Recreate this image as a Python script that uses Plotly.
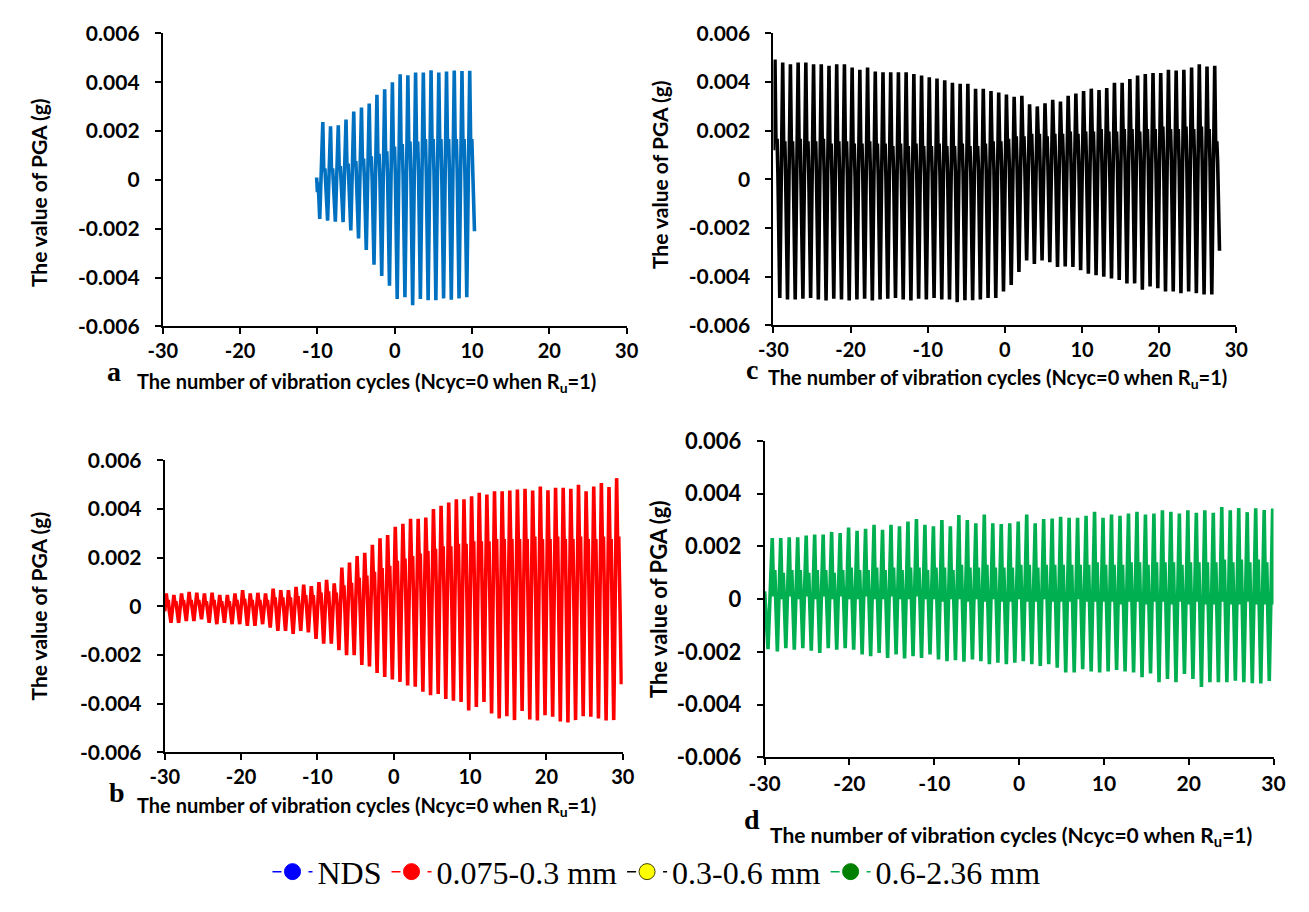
import plotly.graph_objects as go

W, H = 1309, 912

# ---------------- axis ticks ----------------
y_ticks = [-0.006, -0.004, -0.002, 0, 0.002, 0.004, 0.006]
y_tick_text = ["-0.006", "-0.004", "-0.002", "0", "0.002", "0.004", "0.006"]
x_ticks = [-30, -20, -10, 0, 10, 20, 30]
x_tick_text = ["-30", "-20", "-10", "0", "10", "20", "30"]

# ---------------- (a) NDS, values in milli-g ----------------
a_lead_x = [-10.1, -10.0, -9.9, -9.7]
a_lead_y = [0.1, -0.5, -0.1, -1.6]
a_cycle_x = [-9.3, -8.3, -7.3, -6.3, -5.3, -4.3, -3.3, -2.3, -1.3, -0.3,
             0.7, 1.7, 2.7, 3.7, 4.7, 5.7, 6.7, 7.7, 8.7, 9.7]
a_peak = [2.37, 2.2, 2.24, 2.47, 2.8, 2.96, 3.13, 3.49, 3.71, 4.0,
          4.33, 4.29, 4.4, 4.4, 4.49, 4.4, 4.44, 4.48, 4.46, 4.47]
a_upper = [0.4, 0.4, 0.5, 0.6, 0.7, 0.8, 0.9, 1.0, 1.1, 1.3,
           1.4, 1.5, 1.5, 1.6, 1.6, 1.6, 1.6, 1.6, 1.6, 1.6]
a_lower = [-0.3, -0.3, -0.2, -0.2, -0.1, 0.0, 0.0, 0.1, 0.1, 0.2,
           0.2, 0.3, 0.3, 0.3, 0.3, 0.3, 0.3, 0.3, 0.3, 0.3]
a_trough = [-1.67, -1.71, -1.73, -2.07, -2.4, -2.87, -3.47, -3.93, -4.33, -4.87,
            -4.8, -5.13, -4.87, -4.93, -4.93, -4.85, -4.9, -4.85, -4.8, -2.1]

# ---------------- (b) 0.075-0.3 mm ----------------
b_lead_x = [-30.0]
b_lead_y = [-0.2]
b_cycle_x = [-29.8, -28.8, -27.8, -26.8, -25.8, -24.8, -23.8, -22.8, -21.8, -20.8,
             -19.8, -18.8, -17.8, -16.8, -15.8, -14.8, -13.8, -12.8, -11.8, -10.8,
             -9.8, -8.8, -7.8, -6.8, -5.8, -4.8, -3.8, -2.8, -1.8, -0.8,
             0.2, 1.2, 2.2, 3.2, 4.2, 5.2, 6.2, 7.2, 8.2, 9.2,
             10.2, 11.2, 12.2, 13.2, 14.2, 15.2, 16.2, 17.2, 18.2, 19.2,
             20.2, 21.2, 22.2, 23.2, 24.2, 25.2, 26.2, 27.2, 28.2, 29.2]
b_peak = [0.53, 0.47, 0.53, 0.6, 0.56, 0.53, 0.56, 0.47, 0.47, 0.53,
          0.67, 0.53, 0.56, 0.53, 0.73, 0.67, 0.67, 0.8, 0.9, 0.83,
          1.0, 1.09, 0.95, 1.6, 1.8, 2.07, 2.2, 2.53, 2.8, 2.93,
          3.27, 3.4, 3.6, 3.6, 3.65, 4.0, 4.13, 4.27, 4.4, 4.4,
          4.53, 4.67, 4.6, 4.73, 4.73, 4.76, 4.8, 4.83, 4.76, 4.93,
          4.77, 4.87, 4.87, 4.83, 5.0, 4.73, 4.93, 5.07, 4.91, 5.27]
b_upper = [0.2, 0.15, 0.2, 0.2, 0.2, 0.15, 0.2, 0.15, 0.15, 0.2,
           0.25, 0.2, 0.2, 0.2, 0.3, 0.3, 0.3, 0.35, 0.4, 0.4,
           0.5, 0.55, 0.5, 0.8, 0.9, 1.1, 1.2, 1.35, 1.5, 1.6,
           1.8, 1.9, 2.0, 2.1, 2.2, 2.3, 2.4, 2.4, 2.5, 2.5,
           2.6, 2.6, 2.6, 2.7, 2.7, 2.7, 2.7, 2.7, 2.8, 2.7,
           2.7, 2.8, 2.7, 2.7, 2.8, 2.7, 2.7, 2.8, 2.7, 2.8]
b_lower = [-0.15, -0.15, -0.1, -0.15, -0.1, -0.15, -0.15, -0.1, -0.15, -0.15,
           -0.15, -0.1, -0.15, -0.15, -0.1, -0.1, -0.1, -0.1, -0.05, -0.05,
           0.0, 0.0, 0.05, 0.05, 0.1, 0.1, 0.15, 0.15, 0.2, 0.2,
           0.3, 0.3, 0.3, 0.35, 0.35, 0.4, 0.4, 0.4, 0.4, 0.45,
           0.45, 0.4, 0.45, 0.45, 0.45, 0.5, 0.45, 0.45, 0.5, 0.45,
           0.5, 0.45, 0.5, 0.45, 0.5, 0.5, 0.45, 0.5, 0.5, 0.5]
b_trough = [-0.67, -0.67, -0.6, -0.6, -0.53, -0.67, -0.73, -0.67, -0.73, -0.73,
            -0.8, -0.8, -0.73, -0.87, -1.0, -1.0, -1.13, -1.0, -1.07, -1.33,
            -1.53, -1.53, -1.8, -2.0, -2.0, -2.4, -2.47, -2.73, -2.9, -3.0,
            -3.1, -3.25, -3.3, -3.5, -3.65, -3.6, -3.8, -3.87, -3.93, -4.27,
            -4.13, -3.93, -4.4, -4.6, -4.51, -4.67, -4.29, -4.64, -4.69, -4.47,
            -4.53, -4.73, -4.77, -4.67, -4.51, -4.53, -4.6, -4.69, -4.67, -3.2]

# ---------------- (c) 0.3-0.6 mm ----------------
c_lead_x = [-30.0]
c_lead_y = [1.2]
c_cycle_x = [-29.8, -28.8, -27.8, -26.8, -25.8, -24.8, -23.8, -22.8, -21.8, -20.8,
             -19.8, -18.8, -17.8, -16.8, -15.8, -14.8, -13.8, -12.8, -11.8, -10.8,
             -9.8, -8.8, -7.8, -6.8, -5.8, -4.8, -3.8, -2.8, -1.8, -0.8,
             0.2, 1.2, 2.2, 3.2, 4.2, 5.2, 6.2, 7.2, 8.2, 9.2,
             10.2, 11.2, 12.2, 13.2, 14.2, 15.2, 16.2, 17.2, 18.2, 19.2,
             20.2, 21.2, 22.2, 23.2, 24.2, 25.2, 26.2, 27.2]
c_peak = [4.93, 4.8, 4.73, 4.8, 4.8, 4.73, 4.73, 4.67, 4.73, 4.73,
          4.6, 4.51, 4.6, 4.43, 4.4, 4.4, 4.4, 4.4, 4.33, 4.27,
          4.2, 4.15, 4.07, 3.97, 3.93, 3.93, 3.73, 3.73, 3.63, 3.57,
          3.49, 3.4, 3.44, 3.09, 3.0, 3.13, 3.27, 3.2, 3.44, 3.53,
          3.63, 3.73, 3.67, 3.76, 3.97, 3.97, 4.13, 4.27, 4.33, 4.37,
          4.37, 4.51, 4.47, 4.51, 4.6, 4.73, 4.64, 4.67]
c_upper = [1.6, 1.5, 1.5, 1.6, 1.5, 1.5, 1.6, 1.4, 1.5, 1.5,
           1.4, 1.4, 1.5, 1.4, 1.4, 1.3, 1.4, 1.3, 1.4, 1.3,
           1.3, 1.4, 1.3, 1.3, 1.4, 1.3, 1.3, 1.4, 1.5, 1.5,
           1.6, 1.7, 1.7, 1.8, 1.8, 1.7, 1.8, 1.8, 1.9, 1.8,
           1.9, 1.9, 2.0, 1.9, 1.9, 2.0, 2.0, 1.9, 2.0, 2.0,
           2.1, 2.0, 2.0, 2.1, 2.0, 2.1, 2.0, 1.5]
c_lower = [0.2, 0.1, 0.2, 0.1, 0.2, 0.1, 0.2, 0.1, 0.1, 0.2,
           0.1, 0.2, 0.1, 0.2, 0.1, 0.2, 0.2, 0.1, 0.2, 0.2,
           0.2, 0.3, 0.2, 0.3, 0.3, 0.3, 0.4, 0.4, 0.4, 0.5,
           0.5, 0.5, 0.6, 0.6, 0.6, 0.6, 0.6, 0.7, 0.6, 0.7,
           0.6, 0.7, 0.7, 0.6, 0.7, 0.7, 0.7, 0.7, 0.8, 0.7,
           0.7, 0.8, 0.7, 0.7, 0.8, 0.7, 0.8, 0.7]
c_trough = [-4.87, -4.93, -4.93, -4.9, -4.87, -4.93, -4.97, -4.9, -4.93, -4.97,
            -4.93, -4.9, -4.97, -4.93, -4.9, -4.87, -4.93, -4.97, -4.9, -4.93,
            -4.87, -4.93, -4.93, -5.04, -4.96, -4.96, -4.93, -4.87, -4.87, -4.6,
            -4.33, -3.8, -3.33, -3.47, -3.33, -3.4, -3.6, -3.57, -3.6, -3.73,
            -3.87, -3.93, -4.0, -4.07, -4.13, -4.27, -4.27, -4.53, -4.4, -4.47,
            -4.6, -4.6, -4.67, -4.6, -4.67, -4.73, -4.73, -2.93]

# ---------------- (d) 0.6-2.36 mm ----------------
d_lead_x = [-30.0, -29.6]
d_lead_y = [0.3, -1.9]
d_cycle_x = [-29.1, -28.1, -27.1, -26.1, -25.1, -24.1, -23.1, -22.1, -21.1, -20.1,
             -19.1, -18.1, -17.1, -16.1, -15.1, -14.1, -13.1, -12.1, -11.1, -10.1,
             -9.1, -8.1, -7.1, -6.1, -5.1, -4.1, -3.1, -2.1, -1.1, -0.1,
             0.9, 1.9, 2.9, 3.9, 4.9, 5.9, 6.9, 7.9, 8.9, 9.9,
             10.9, 11.9, 12.9, 13.9, 14.9, 15.9, 16.9, 17.9, 18.9, 19.9,
             20.9, 21.9, 22.9, 23.9, 24.9, 25.9, 26.9, 27.9, 28.9, 29.9]
d_peak = [2.32, 2.32, 2.35, 2.35, 2.41, 2.45, 2.45, 2.55, 2.51, 2.72,
          2.59, 2.67, 2.82, 2.63, 2.82, 2.76, 2.94, 3.04, 2.82, 2.76,
          3.0, 2.76, 3.19, 3.0, 2.88, 3.21, 2.88, 2.85, 2.88, 2.94,
          3.21, 2.88, 3.04, 3.06, 3.12, 3.09, 3.09, 3.16, 3.31, 3.09,
          3.21, 3.16, 3.25, 3.31, 3.21, 3.25, 3.37, 3.31, 3.25, 3.37,
          3.28, 3.37, 3.28, 3.49, 3.37, 3.46, 3.3, 3.45, 3.38, 3.44]
d_upper = [1.1, 1.0, 1.1, 1.1, 1.0, 1.1, 1.1, 1.0, 1.1, 1.2,
           1.1, 1.1, 1.2, 1.1, 1.2, 1.1, 1.2, 1.2, 1.1, 1.2,
           1.2, 1.1, 1.3, 1.2, 1.2, 1.3, 1.2, 1.2, 1.2, 1.3,
           1.3, 1.2, 1.3, 1.3, 1.3, 1.3, 1.3, 1.3, 1.4, 1.3,
           1.3, 1.3, 1.4, 1.4, 1.3, 1.4, 1.4, 1.4, 1.3, 1.4,
           1.4, 1.4, 1.4, 1.5, 1.4, 1.5, 1.4, 1.5, 1.4, 1.5]
d_lower = [0.1, 0.0, 0.1, 0.0, 0.1, 0.0, 0.1, 0.0, 0.1, 0.0,
           0.0, 0.1, 0.0, 0.0, 0.1, 0.0, 0.0, 0.1, 0.0, 0.0,
           -0.1, 0.0, 0.0, -0.1, 0.0, -0.1, 0.0, -0.1, -0.1, 0.0,
           -0.1, -0.1, 0.0, -0.1, -0.1, -0.1, 0.0, -0.1, -0.1, -0.1,
           -0.1, -0.2, -0.1, -0.1, -0.2, -0.1, -0.1, -0.2, -0.1, -0.2,
           -0.1, -0.2, -0.2, -0.1, -0.2, -0.2, -0.1, -0.2, -0.2, -0.2]
d_trough = [-1.98, -1.86, -1.92, -1.86, -1.96, -2.04, -1.86, -1.92, -1.86, -1.92,
            -2.1, -2.16, -2.04, -2.23, -2.1, -2.25, -2.16, -2.23, -2.1, -2.29,
            -2.35, -2.32, -2.37, -2.29, -2.35, -2.47, -2.41, -2.47, -2.41, -2.35,
            -2.47, -2.53, -2.47, -2.6, -2.78, -2.78, -2.66, -2.74, -2.78, -2.74,
            -2.69, -2.74, -2.78, -2.96, -2.82, -3.15, -3.03, -3.15, -2.84, -3.03,
            -3.33, -3.15, -3.15, -3.15, -3.09, -3.15, -3.19, -3.2, -3.1, -3.2]

# legend entries: name, marker fill, marker outline, dash colour
legend_names = ["NDS", "0.075-0.3 mm", "0.3-0.6 mm", "0.6-2.36 mm"]
legend_fill = ["#0000FF", "#FF0000", "#FFFF00", "#008000"]
legend_edge = ["#0000FF", "#FF0000", "#404000", "#008000"]
legend_dash = ["#0000FF", "#FF0000", "#000000", "#00B050"]

MG = 1e-3  # stored values are milli-g

# within-cycle phase offsets of the waveform vertices
SHELF_PHASES = (0.12, 0.28, 0.38, 0.62)   # peak -> shelf -> shelf -> mid -> trough
DOUBLE_PHASES = (0.16, 0.30, 0.60)        # peak -> dip -> hump -> trough


def shelf_wave(lead_x, lead_y, cx, pk, up, lo, tr):
    xs = list(lead_x)
    ys = [v * MG for v in lead_y]
    p1, p2, p3, p4 = SHELF_PHASES
    for x0, p, u, l, t in zip(cx, pk, up, lo, tr):
        xs += [x0, x0 + p1, x0 + p2, x0 + p3, x0 + p4]
        ys += [p * MG, u * MG, u * MG, l * MG, t * MG]
    return xs, ys


def double_wave(lead_x, lead_y, cx, pk, up, lo, tr):
    xs = list(lead_x)
    ys = [v * MG for v in lead_y]
    p1, p2, p3 = DOUBLE_PHASES
    for x0, p, u, l, t in zip(cx, pk, up, lo, tr):
        xs += [x0, x0 + p1, x0 + p2, x0 + p3]
        ys += [p * MG, l * MG, u * MG, t * MG]
    return xs, ys


fig = go.Figure()
LW = 3.6

ax, ay = shelf_wave(a_lead_x, a_lead_y, a_cycle_x, a_peak, a_upper, a_lower, a_trough)
fig.add_trace(go.Scatter(x=ax, y=ay, mode="lines", line=dict(color="#0070C0", width=LW),
                         showlegend=False, xaxis="x", yaxis="y"))
cx_, cy_ = shelf_wave(c_lead_x, c_lead_y, c_cycle_x, c_peak, c_upper, c_lower, c_trough)
fig.add_trace(go.Scatter(x=cx_, y=cy_, mode="lines", line=dict(color="#000000", width=LW),
                         showlegend=False, xaxis="x2", yaxis="y2"))
bx, by = shelf_wave(b_lead_x, b_lead_y, b_cycle_x, b_peak, b_upper, b_lower, b_trough)
fig.add_trace(go.Scatter(x=bx, y=by, mode="lines", line=dict(color="#FF0000", width=LW),
                         showlegend=False, xaxis="x3", yaxis="y3"))
dx, dy = double_wave(d_lead_x, d_lead_y, d_cycle_x, d_peak, d_upper, d_lower, d_trough)
fig.add_trace(go.Scatter(x=dx, y=dy, mode="lines", line=dict(color="#00B050", width=LW),
                         showlegend=False, xaxis="x4", yaxis="y4"))

for name, fill, edge, dash in zip(legend_names, legend_fill, legend_edge, legend_dash):
    fig.add_trace(go.Scatter(
        x=[None], y=[None], mode="lines+markers", name=name,
        line=dict(color=dash, width=1.5, dash="dash"),
        marker=dict(size=24, color=fill, line=dict(color=edge, width=1)),
        xaxis="x", yaxis="y"))

SANS = "Lato, 'Open Sans', sans-serif"
SERIF = "'Liberation Serif', 'Times New Roman', serif"


def px_x(p):
    return p / W


def px_y(p):
    return 1 - p / H


def xaxis(x0, x1, anchor, size):
    return dict(domain=[px_x(x0), px_x(x1)], anchor=anchor, range=[-30, 30],
                tickvals=x_ticks, ticktext=x_tick_text, showgrid=False, zeroline=False,
                showline=True, linecolor="black", linewidth=2, ticks="outside",
                ticklen=6, tickwidth=2, tickcolor="black",
                tickfont=dict(family=SANS, size=size, color="black", weight="bold"))


def yaxis(y0, y1, anchor, size):
    return dict(domain=[px_y(y1), px_y(y0)], anchor=anchor, range=[-0.006, 0.006],
                tickvals=y_ticks, ticktext=y_tick_text, showgrid=False, zeroline=False,
                showline=True, linecolor="black", linewidth=2, ticks="outside",
                ticklen=6, tickwidth=2, tickcolor="black", ticklabelstandoff=11,
                tickfont=dict(family=SANS, size=size, color="black", weight="bold"))


TS = 21
fig.update_layout(
    width=W, height=H, autosize=False,
    margin=dict(l=0, r=0, t=0, b=0),
    paper_bgcolor="white", plot_bgcolor="white",
    xaxis=xaxis(150, 624, "y", TS - 1), yaxis=yaxis(20, 322, "x", TS),
    xaxis2=xaxis(774, 1247, "y2", TS - 1), yaxis2=yaxis(20, 321, "x2", TS),
    xaxis3=xaxis(152, 620, "y3", TS - 1), yaxis3=yaxis(460, 761, "x3", TS),
    xaxis4=xaxis(765, 1285, "y4", TS), yaxis4=yaxis(440, 766, "x4", TS + 1),
    legend=dict(orientation="h", x=0.5, xanchor="center", y=px_y(884), yanchor="middle",
                font=dict(family=SERIF, size=32, color="black"),
                itemwidth=40, tracegroupgap=0, bgcolor="rgba(0,0,0,0)"),
)

x_title = "The number of vibration cycles (Ncyc=0 when R<sub>u</sub>=1)"
y_title = "The value of PGA (g)"
ann = []
for (x0, y0, size) in [(122, 380, 20), (122, 817, 20), (766, 376, 20), (768, 847, 21)]:
    ann.append(dict(text=x_title, x=px_x(x0), y=px_y(y0), xref="paper", yref="paper",
                    xanchor="left", yanchor="middle", showarrow=False,
                    font=dict(family=SANS, size=size, color="black", weight="bold")))
for (x0, y0, size) in [(23, 184, 21), (23, 610, 21), (657, 165, 21), (656, 603, 22)]:
    ann.append(dict(text=y_title, x=px_x(x0), y=px_y(y0), xref="paper", yref="paper",
                    xanchor="center", yanchor="middle", textangle=-90, showarrow=False,
                    font=dict(family=SANS, size=size, color="black", weight="bold")))
for (letter, x0, y0) in [("a", 100, 368), ("b", 103, 802), ("c", 752, 366), ("d", 752, 830)]:
    ann.append(dict(text=letter, x=px_x(x0), y=px_y(y0), xref="paper", yref="paper",
                    xanchor="center", yanchor="middle", showarrow=False,
                    font=dict(family=SERIF, size=28, color="black", weight="bold")))
fig.update_layout(annotations=ann)

fig.write_html("out.html")
